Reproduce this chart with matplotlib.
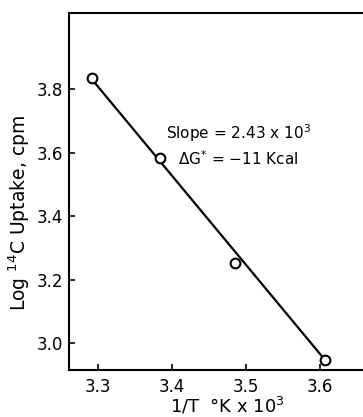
import matplotlib.pyplot as plt

# data
inv_t = [3.292, 3.384, 3.486, 3.607]
log_uptake = [3.834, 3.584, 3.251, 2.946]
fit_x = [3.293, 3.604]
fit_y = [3.828, 2.955]
xticks = [3.3, 3.4, 3.5, 3.6]
yticks = [3.0, 3.2, 3.4, 3.6, 3.8]

plt.rcParams['font.family'] = ['DejaVu Sans']
fig = plt.figure(figsize=(3.63, 4.17), dpi=100)
# right edge of the frame is cut off in the original
ax = fig.add_axes([69/363, 47/417, 1.1, 357/417])

ax.plot(fit_x, fit_y, color='black', lw=1.6, zorder=2)
ax.plot(inv_t, log_uptake, 'o', mfc='white', mec='black', ms=7, mew=1.5, zorder=3)

ax.set_xlim(3.261, 3.261 + 1.1 * 363 / 740)
ax.set_ylim(2.915, 4.04)
ax.set_xticks(xticks)
ax.set_yticks(yticks)
ax.set_xticklabels(['%.1f' % v for v in xticks])
ax.set_yticklabels(['%.1f' % v for v in yticks])
ax.tick_params(direction='in', length=4, width=1.2, labelsize=12)
ax.tick_params(axis='y', pad=4)
ax.tick_params(axis='x', pad=6)
for s in ax.spines.values():
    s.set_linewidth(1.5)

ax.text(3.49, 3.66, 'Slope = 2.43 x 10$^3$', ha='center', va='center', fontsize=11)
ax.text(3.49, 3.58, r'$\Delta$G$^{*}$ = $-$11 Kcal', ha='center', va='center', fontsize=11)

ax.set_xlabel('1/T  °K x 10$^3$', fontsize=13)
ax.xaxis.set_label_coords((227 - 69) / (1.1 * 363), -0.07)
fig.text(19/363, 1 - 213/417, 'Log $^{14}$C Uptake, cpm', rotation=90,
         ha='center', va='center', fontsize=13.5)

fig.savefig('out.png', dpi=100)
